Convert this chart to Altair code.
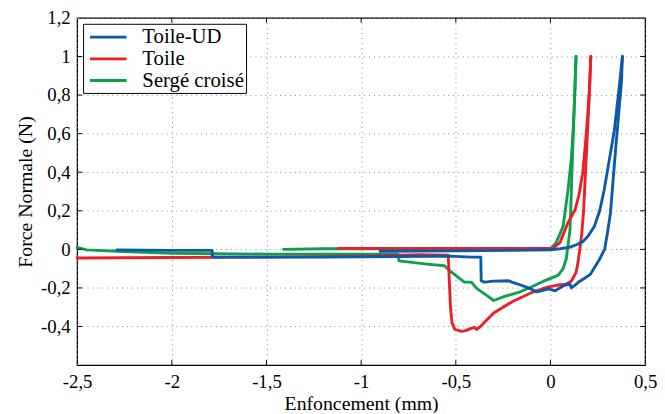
import altair as alt
import pandas as pd

series_names = ["Toile-UD", "Toile", "Sergé croisé"]
series_colors = ["#0b5aa9", "#ec1f27", "#0e9f4a"]

# Toile-UD (blue)
ud_load_x = [-0.9, -0.5, -0.2, 0.0, 0.05, 0.10, 0.14, 0.17, 0.20, 0.232, 0.26, 0.284, 0.31, 0.337, 0.363, 0.38]
ud_load_y = [-0.01, -0.008, -0.005, -0.002, 0.003, 0.01, 0.025, 0.04, 0.07, 0.12, 0.2, 0.31, 0.46, 0.615, 0.84, 1.0]
ud_unload_x = [0.38, 0.375, 0.36, 0.345, 0.33, 0.317, 0.30, 0.286, 0.26, 0.235, 0.21, 0.18, 0.155, 0.13, 0.11,
               0.103, 0.08, 0.067, 0.025, -0.01, -0.05, -0.074, -0.105, -0.142, -0.204, -0.22, -0.30, -0.35,
               -0.366, -0.368, -0.418, -0.533, -0.8, -1.2, -1.5, -1.785, -1.787, -2.0, -2.29]
ud_unload_y = [1.0, 0.87, 0.7, 0.53, 0.35, 0.19, 0.08, 0.0, -0.05, -0.09, -0.13, -0.15, -0.165, -0.185, -0.2,
               -0.18, -0.185, -0.19, -0.215, -0.205, -0.215, -0.22, -0.205, -0.19, -0.17, -0.163, -0.165, -0.17,
               -0.163, -0.04, -0.04, -0.035, -0.037, -0.04, -0.04, -0.04, -0.005, -0.005, -0.003]

# Toile (red)
t_load_x = [-1.12, -0.8, -0.5, -0.2, 0.0, 0.015, 0.05, 0.093, 0.13, 0.15, 0.17, 0.185, 0.197, 0.207, 0.213]
t_load_y = [0.005, 0.005, 0.005, 0.005, 0.005, 0.008, 0.035, 0.14, 0.205, 0.28, 0.395, 0.55, 0.7, 0.85, 1.0]
t_unload_x = [0.213, 0.205, 0.195, 0.185, 0.175, 0.165, 0.155, 0.145, 0.135, 0.11, 0.083, 0.04, -0.01, -0.09,
              -0.2, -0.3, -0.37, -0.39, -0.40, -0.42, -0.444, -0.47, -0.505, -0.52, -0.528, -0.535, -0.54,
              -0.7, -1.0, -1.5, -2.0, -2.5]
t_unload_y = [1.0, 0.8, 0.6, 0.4, 0.2, 0.08, 0.0, -0.07, -0.12, -0.165, -0.18, -0.185, -0.195, -0.22,
              -0.27, -0.33, -0.40, -0.415, -0.405, -0.41, -0.42, -0.425, -0.415, -0.38, -0.3, -0.15, -0.03,
              -0.028, -0.035, -0.04, -0.042, -0.045]

# Sergé croisé (green)
s_load_x = [-1.41, -1.2, -0.8, -0.5, -0.2, 0.0, 0.03, 0.067, 0.093, 0.11, 0.12, 0.128, 0.135]
s_load_y = [0.0, 0.003, 0.003, 0.003, 0.002, 0.003, 0.035, 0.12, 0.31, 0.47, 0.615, 0.8, 1.0]
s_unload_x = [0.135, 0.128, 0.12, 0.112, 0.103, 0.09, 0.083, 0.067, 0.04, -0.037, -0.09, -0.16, -0.246, -0.30,
              -0.335, -0.387, -0.418, -0.455, -0.507, -0.533, -0.56, -0.664, -0.80, -0.805, -1.0, -1.5, -2.0,
              -2.29, -2.45, -2.5]
s_unload_y = [1.0, 0.8, 0.6, 0.35, 0.1, 0.0, -0.05, -0.1, -0.135, -0.165, -0.19, -0.22, -0.245, -0.265,
              -0.24, -0.205, -0.17, -0.17, -0.13, -0.11, -0.085, -0.075, -0.06, -0.025, -0.025, -0.025, -0.02,
              -0.01, -0.003, 0.01]

x_ticks = [-2.5, -2, -1.5, -1, -0.5, 0, 0.5]
y_ticks = [-0.4, -0.2, 0, 0.2, 0.4, 0.6, 0.8, 1, 1.2]
x_inner = [-2, -1.5, -1, -0.5, 0]
y_inner = [-0.4, -0.2, 0, 0.2, 0.4, 0.6, 0.8, 1]

rows = []
def add(name, part, xs, ys):
    for i, (a, b) in enumerate(zip(xs, ys)):
        rows.append({"serie": name, "curve": name + "-" + part, "i": i, "x": a, "y": b})

add("Sergé croisé", "load", s_load_x, s_load_y)
add("Sergé croisé", "unload", s_unload_x, s_unload_y)
add("Toile", "load", t_load_x, t_load_y)
add("Toile", "unload", t_unload_x, t_unload_y)
add("Toile-UD", "load", ud_load_x, ud_load_y)
add("Toile-UD", "unload", ud_unload_x, ud_unload_y)
df = pd.DataFrame(rows)

FONT = "Liberation Serif"
lab = "replace(toString(datum.value), '.', ',')"
xscale = alt.Scale(domain=[-2.5, 0.5], nice=False, zero=False)
yscale = alt.Scale(domain=[-0.6, 1.2], nice=False, zero=False)
xaxis = alt.Axis(values=x_ticks, labelExpr=lab, title="Enfoncement (mm)", grid=True,
                 labelPadding=8, titlePadding=2, labelFlush=False, labelFont=FONT, titleFont=FONT)
yaxis = alt.Axis(values=y_ticks, labelExpr=lab, title="Force Normale (N)", grid=True,
                 labelPadding=7, titlePadding=5, labelFont=FONT, titleFont=FONT)

lines = alt.Chart(df).mark_line(strokeWidth=2.9, strokeJoin="round", strokeCap="round").encode(
    x=alt.X("x:Q", scale=xscale, axis=xaxis),
    y=alt.Y("y:Q", scale=yscale, axis=yaxis),
    color=alt.Color("serie:N", scale=alt.Scale(domain=series_names, range=series_colors),
                    legend=alt.Legend(title=None, orient="top-left", offset=6, padding=2,
                                      strokeColor="black", fillColor="white", cornerRadius=0,
                                      symbolType="M-1.85,0H1.85", symbolSize=400, symbolStrokeWidth=3,
                                      symbolOffset=12, symbolOpacity=1, labelFontSize=21, labelFont=FONT,
                                      labelColor="black", rowPadding=-1.5, labelOffset=23)),
    detail="curve:N",
    order="i:Q",
)

xt = pd.DataFrame({"x": x_inner})
yt = pd.DataFrame({"y": y_inner})
tx = 5 / 191.67
ty = 5 / 195.0
bottom_t = alt.Chart(xt).mark_rule(color="black", strokeWidth=1).encode(
    x=alt.X("x:Q", scale=xscale, axis=xaxis), y=alt.Y(datum=-0.6, title="Force Normale (N)"), y2=alt.Y2(datum=-0.6 + ty))
top_t = alt.Chart(xt).mark_rule(color="black", strokeWidth=1).encode(
    x=alt.X("x:Q", scale=xscale, axis=xaxis), y=alt.Y(datum=1.2, title="Force Normale (N)"), y2=alt.Y2(datum=1.2 - ty))
left_t = alt.Chart(yt).mark_rule(color="black", strokeWidth=1).encode(
    y=alt.Y("y:Q", scale=yscale, axis=yaxis), x=alt.X(datum=-2.5, title="Enfoncement (mm)"), x2=alt.X2(datum=-2.5 + tx))
right_t = alt.Chart(yt).mark_rule(color="black", strokeWidth=1).encode(
    y=alt.Y("y:Q", scale=yscale, axis=yaxis), x=alt.X(datum=0.5, title="Enfoncement (mm)"), x2=alt.X2(datum=0.5 - tx))

chart = alt.layer(lines, bottom_t, top_t, left_t, right_t).properties(
    width=575, height=351.5,
    autosize=alt.AutoSizeParams(type="none"),
    padding={"left": 70, "top": 7.5, "right": 12, "bottom": 46},
).configure_view(stroke="black", strokeWidth=1.3).configure_axis(
    labelFont=FONT, labelFontSize=19, labelColor="black",
    titleFont=FONT, titleFontSize=20, titleFontWeight="normal", titleColor="black",
    domain=False, ticks=False, gridColor="#8a8a8a", gridDash=[1, 4], gridWidth=1,
).configure_legend(labelFont=FONT)

chart.save("out.html", embed_options={"renderer": "svg", "actions": False})
